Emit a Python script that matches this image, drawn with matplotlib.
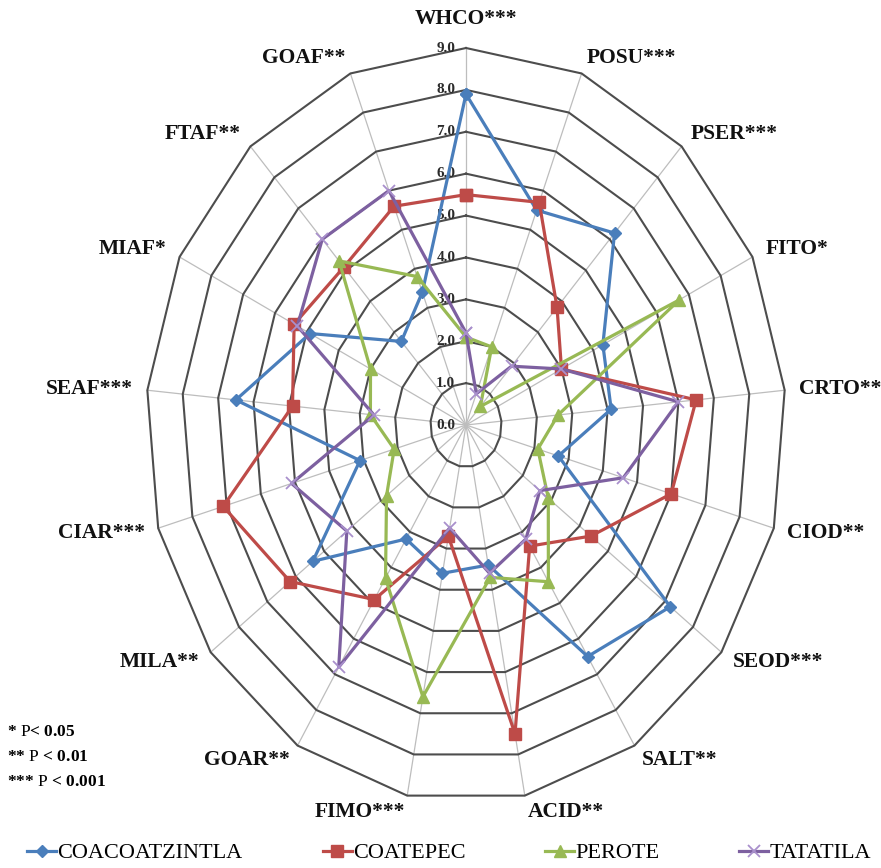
import numpy as np
import matplotlib.pyplot as plt
from matplotlib.lines import Line2D

plt.rcParams['font.family'] = ['Liberation Serif', 'DejaVu Serif']
plt.rcParams['mathtext.fontset'] = 'custom'
plt.rcParams['mathtext.rm'] = 'Liberation Serif'

# categories clockwise from the top
categories = ['WHCO***', 'POSU***', 'PSER***', 'FITO*', 'CRTO**', 'CIOD**',
              'SEOD***', 'SALT**', 'ACID**', 'FIMO***', 'GOAR**', 'MILA**',
              'CIAR***', 'SEAF***', 'MIAF*', 'FTAF**', 'GOAF**']

coacoatzintla = [7.9, 5.5, 6.2, 4.3, 4.1, 2.7, 7.2, 6.5, 3.4, 3.6, 3.2, 5.4,
                 3.1, 6.5, 4.9, 2.7, 3.4]
coatepec = [5.5, 5.7, 3.8, 3.0, 6.5, 6.0, 4.4, 3.4, 7.5, 2.7, 4.9, 6.2,
            7.1, 4.9, 5.4, 5.1, 5.6]
perote = [2.1, 2.0, 0.6, 6.7, 2.6, 2.1, 2.9, 4.4, 3.7, 6.6, 4.3, 2.8,
          2.1, 2.7, 3.0, 5.3, 3.8]
tatatila = [2.2, 0.8, 1.9, 3.0, 6.0, 4.6, 2.6, 3.2, 3.6, 2.5, 6.8, 4.2,
            5.1, 2.6, 5.3, 6.0, 6.0]

series_names = ['COACOATZINTLA', 'COATEPEC', 'PEROTE', 'TATATILA']
ring_values = [0, 1, 2, 3, 4, 5, 6, 7, 8, 9]
notes = [r'* $\mathrm{P}$< 0.05', r'** $\mathrm{P}$ < 0.01', r'*** $\mathrm{P}$ < 0.001']

n = len(categories)
theta = np.arange(n) * 2 * np.pi / n
rmax = ring_values[-1]


def polar_xy(r):
    r = np.asarray(r, dtype=float)
    return r * np.sin(theta), r * np.cos(theta)


def closed(a):
    return np.append(a, a[0])


fig = plt.figure(figsize=(8.81, 8.68), dpi=100)
ax = fig.add_axes([0.1657, 0.0760, 0.7265, 0.8687])
ax.set_xlim(-rmax, rmax)
ax.set_ylim(-rmax, rmax)
ax.set_aspect('auto')
ax.axis('off')

# spokes
for t in theta:
    ax.plot([0, rmax * np.sin(t)], [0, rmax * np.cos(t)],
            color='#BDBDBD', lw=0.9, zorder=1, clip_on=False)

# polygon rings and their labels
for rv in ring_values[1:]:
    x, y = polar_xy(np.full(n, rv))
    ax.plot(closed(x), closed(y), color='#4D4D4D', lw=1.5, zorder=2,
            clip_on=False)
for rv in ring_values:
    ax.text(-0.3, rv, f'{rv:.1f}', ha='right', va='center', fontsize=11,
            fontweight='bold', color='#2B2B2B', zorder=3)

# category labels
for t, lab in zip(theta, categories):
    s, c = np.sin(t), np.cos(t)
    if abs(s) < 0.05:
        ha, rl = 'center', 9.7
    else:
        ha, rl = ('left' if s > 0 else 'right'), 9.4
    ax.text(rl * s, rl * c, lab, ha=ha, va='center', fontsize=15.5,
            fontweight='bold', color='#111111')

styles = [
    dict(color='#4A7EBB', marker='D', ms=6.5, mfc='#4A7EBB', mec='#4A7EBB'),
    dict(color='#BE4B48', marker='s', ms=9, mfc='#BE4B48', mec='#BE4B48'),
    dict(color='#98B954', marker='^', ms=9, mfc='#98B954', mec='#98B954'),
    dict(color='#7D60A0', marker='x', ms=9, mew=1.3, mec='#A990CC'),
]

handles = []
for vals, st, name in zip([coacoatzintla, coatepec, perote, tatatila],
                          styles, series_names):
    x, y = polar_xy(vals)
    ax.plot(closed(x), closed(y), lw=2.3, zorder=4, clip_on=False, **st)
    handles.append(Line2D([], [], lw=2.3, **st))

fig.legend(handles, series_names, loc='center', ncol=4,
           bbox_to_anchor=(0.51, 1 - 853 / 868), frameon=False, fontsize=16,
           handlelength=1.3, handletextpad=0.05, columnspacing=3.6,
           borderpad=0.1)

for i, note in enumerate(notes):
    fig.text(0.008, 1 - (732 + 25 * i) / 868, note, ha='left', va='center',
             fontsize=12.5, fontweight='bold')

fig.savefig('out.png', dpi=100)
